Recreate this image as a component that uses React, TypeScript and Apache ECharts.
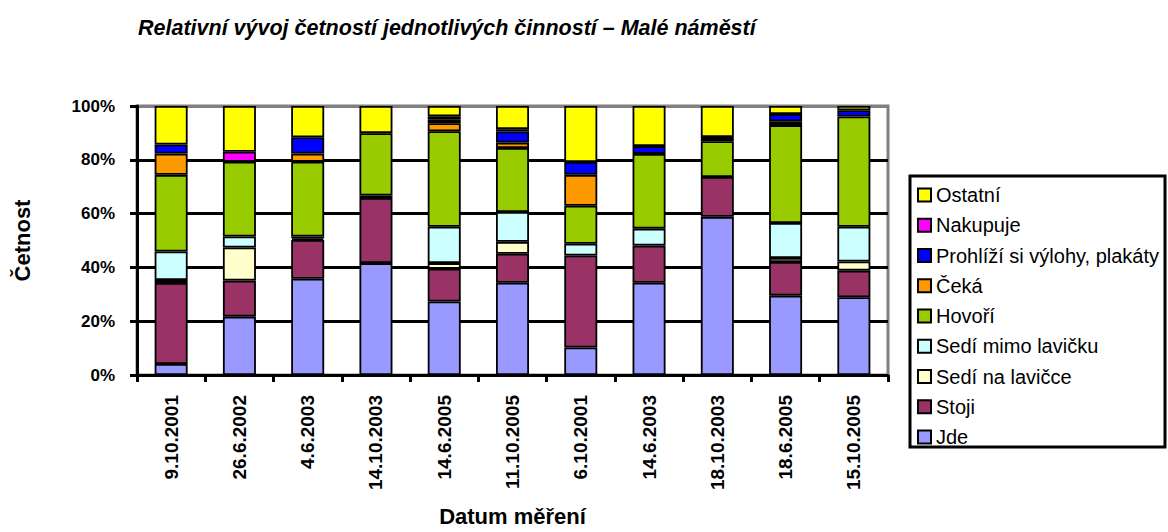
import React, { useEffect, useRef } from "react";
import * as echarts from "echarts";

const categories = [
  "9.10.2001", "26.6.2002", "4.6.2003", "14.10.2003", "14.6.2005", "11.10.2005",
  "6.10.2001", "14.6.2003", "18.10.2003", "18.6.2005", "15.10.2005",
];

const jde = [4.1, 21.7, 35.8, 41.6, 27.3, 34.3, 10.2, 34.3, 58.8, 29.5, 28.9];
const stoji = [30.1, 13.4, 14.4, 24.2, 12.2, 10.8, 34.2, 13.8, 14.8, 12.5, 9.9];
const sediNa = [1.1, 12.3, 0.6, 0, 2.1, 4.4, 0, 0, 0, 1.5, 3.4];
const sediMimo = [10.6, 4.1, 0.7, 0.9, 13.5, 11.1, 4.4, 6.3, 0, 13.0, 12.9];
const hovori = [28.5, 27.8, 27.8, 23.2, 35.5, 23.8, 14.1, 27.8, 13.3, 36.4, 41.0];
const ceka = [7.9, 0, 3.0, 0, 3.0, 2.0, 11.5, 0, 0.8, 1.4, 0];
const prohlizi = [3.4, 0, 6.1, 0, 1.3, 4.1, 4.8, 2.9, 0.8, 2.7, 2.3];
const nakupuje = [0, 3.7, 0, 0, 1.3, 0.9, 0, 0, 0, 0, 0];
const ostatni = [14.3, 17.0, 11.6, 10.1, 3.8, 8.6, 20.8, 14.9, 11.5, 3.0, 1.6];

const yTicks = [0, 20, 40, 60, 80, 100];

const seriesDefs = [
  { name: "Jde", data: jde, color: "#9999FF" },
  { name: "Stoji", data: stoji, color: "#993366" },
  { name: "Sedí na lavičce", data: sediNa, color: "#FFFFCC" },
  { name: "Sedí mimo lavičku", data: sediMimo, color: "#CCFFFF" },
  { name: "Hovoří", data: hovori, color: "#99CC00" },
  { name: "Čeká", data: ceka, color: "#FF9900" },
  { name: "Prohlíží si výlohy, plakáty", data: prohlizi, color: "#0000FF" },
  { name: "Nakupuje", data: nakupuje, color: "#FF00FF" },
  { name: "Ostatní", data: ostatni, color: "#FFFF00" },
];

const FONT = "'Liberation Sans', Arial, sans-serif";

export default function App() {
  const ref = useRef<HTMLDivElement>(null);

  useEffect(() => {
    if (!ref.current) return;
    const chart = echarts.init(ref.current, undefined, { renderer: "svg" });
    const option = {
      animation: false,
      backgroundColor: "#ffffff",
      title: {
        text: "Relativní vývoj četností jednotlivých činností – Malé náměstí",
        left: 138,
        top: 17,
        padding: 0,
        textStyle: {
          fontFamily: FONT,
          fontSize: 21.5,
          fontWeight: "bold",
          fontStyle: "italic",
          color: "#000",
        },
      },
      graphic: [
        {
          type: "rect",
          shape: { x: 910, y: 176, width: 255, height: 271 },
          style: { fill: "#fff", stroke: "#000", lineWidth: 3 },
          z: 0,
        },
      ],
      legend: {
        orient: "vertical",
        left: 917,
        top: 185,
        padding: 0,
        itemGap: 10.25,
        itemWidth: 13,
        itemHeight: 13,
        icon: "rect",
        data: seriesDefs.map((s) => s.name).reverse(),
        itemStyle: { borderColor: "#000", borderWidth: 2 },
        textStyle: { fontFamily: FONT, fontSize: 20, lineHeight: 20, color: "#000" },
        z: 5,
      },
      grid: {
        left: 137,
        right: 280,
        top: 106,
        bottom: 155,
        show: true,
        borderColor: "#808080",
        borderWidth: 3,
        backgroundColor: "transparent",
      },
      xAxis: {
        type: "category",
        data: categories,
        axisLine: { lineStyle: { color: "#000", width: 3 } },
        axisTick: { show: true, length: 7, lineStyle: { color: "#000", width: 3 } },
        axisLabel: {
          rotate: 90,
          interval: 0,
          margin: 20,
          fontFamily: FONT,
          fontSize: 19,
          fontWeight: "bold",
          color: "#000",
        },
        name: "Datum měření",
        nameLocation: "middle",
        nameGap: 130,
        nameTextStyle: { fontFamily: FONT, fontSize: 22, fontWeight: "bold", color: "#000" },
      },
      yAxis: {
        type: "value",
        min: yTicks[0],
        max: yTicks[yTicks.length - 1],
        interval: 20,
        axisLine: { show: true, lineStyle: { color: "#000", width: 3 } },
        axisTick: { show: true, length: 7, lineStyle: { color: "#000", width: 3 } },
        axisLabel: {
          formatter: "{value}%",
          margin: 22,
          fontFamily: FONT,
          fontSize: 17,
          fontWeight: "bold",
          color: "#000",
        },
        splitLine: {
          show: true,
          lineStyle: {
            color: ["#000", "#000", "#000", "#000", "#000", "#808080"],
            width: 3,
          },
        },
        name: "Četnost",
        nameLocation: "middle",
        nameRotate: 90,
        nameGap: 104,
        nameTextStyle: { fontFamily: FONT, fontSize: 22, fontWeight: "bold", color: "#000" },
      },
      series: seriesDefs.map((s) => ({
        name: s.name,
        type: "bar",
        stack: "total",
        barWidth: 33,
        data: s.data.map((v) => (v === 0 ? null : v)),
        itemStyle: { color: s.color, borderColor: "#000", borderWidth: 1.8 },
        emphasis: { disabled: true },
      })),
    };
    chart.setOption(option as any);
    return () => chart.dispose();
  }, []);

  return (
    <div
      ref={ref}
      style={{ position: "fixed", left: 0, top: 0, width: 1168, height: 532, background: "#fff" }}
    />
  );
}
